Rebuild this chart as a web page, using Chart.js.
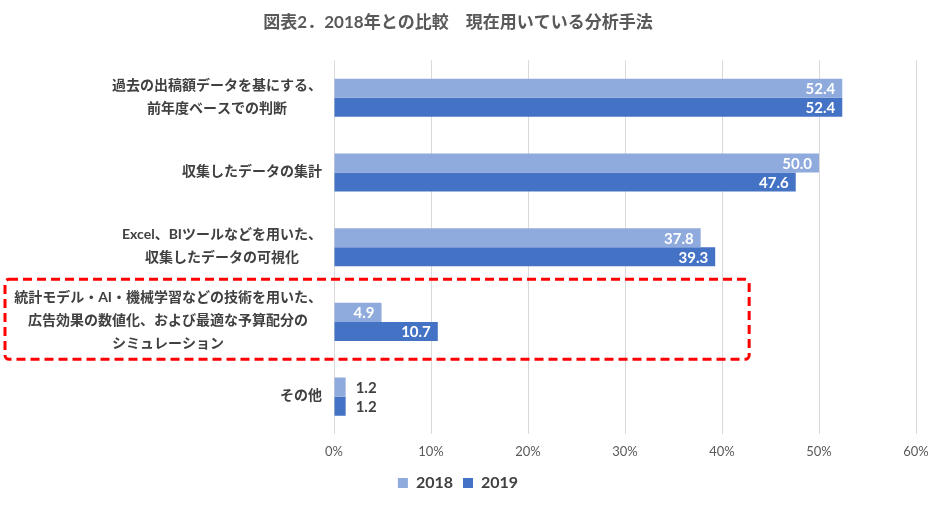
<!DOCTYPE html>
<html>
<head>
<meta charset="utf-8">
<script src="https://cdn.jsdelivr.net/npm/chart.js@4.4.1/dist/chart.umd.min.js"></script>
<style>
  html, body { margin: 0; padding: 0; background: #fff; }
  #wrap { width: 940px; height: 507px; }
</style>
</head>
<body>
<div id="wrap"><canvas id="chart"></canvas></div>
<script>
const categories = [
    ['過去の出稿額データを基にする、', '前年度ベースでの判断'],
    ['収集したデータの集計'],
    ['Excel、BIツールなどを用いた、', '収集したデータの可視化'],
    ['統計モデル・AI・機械学習などの技術を用いた、', '広告効果の数値化、および最適な予算配分の', 'シミュレーション'],
    ['その他']
];
const values2018 = [52.4, 50.0, 37.8, 4.9, 1.2];
const values2019 = [52.4, 47.6, 39.3, 10.7, 1.2];
const seriesNames = ['2018', '2019'];
const xTicks = [0, 10, 20, 30, 40, 50, 60];
const highlightIndex = 3;

const GREY = '#595959';
const DARK = '#404040';
const FONT = "Lato, 'Noto Sans CJK JP', sans-serif";

// ラベルをブロック単位で右寄せ、各行は中央揃え
const categoryLabels = {
    id: 'categoryLabels',
    afterDraw(chart) {
        const ctx = chart.ctx;
        const y = chart.scales.y;
        const right = chart.chartArea.left - 12;
        const lh = 23;
        ctx.save();
        ctx.font = "bold 14px " + FONT;
        ctx.fillStyle = DARK;
        ctx.textAlign = 'center';
        ctx.textBaseline = 'middle';
        categories.forEach((lines, i) => {
            const cy = y.getPixelForValue(i) - 1;
            const maxW = Math.max(...lines.map(l => ctx.measureText(l).width));
            const cx = right - maxW / 2;
            lines.forEach((l, j) => {
                ctx.fillText(l, cx, cy + (j - (lines.length - 1) / 2) * lh);
            });
        });
        ctx.restore();
    }
};

const valueLabels = {
    id: 'valueLabels',
    afterDatasetsDraw(chart) {
        const ctx = chart.ctx;
        ctx.save();
        ctx.font = "bold 15px " + FONT;
        ctx.textBaseline = 'middle';
        chart.data.datasets.forEach((ds, di) => {
            chart.getDatasetMeta(di).data.forEach((bar, i) => {
                const v = ds.data[i];
                const txt = v.toFixed(1);
                if (v >= 3) {
                    ctx.fillStyle = '#ffffff';
                    ctx.textAlign = 'right';
                    ctx.fillText(txt, bar.x - 7, bar.y + 1);
                } else {
                    ctx.fillStyle = DARK;
                    ctx.textAlign = 'left';
                    ctx.fillText(txt, bar.x + 10, bar.y + 1);
                }
            });
        });
        ctx.restore();
    }
};

const highlightBox = {
    id: 'highlightBox',
    afterDraw(chart) {
        const ctx = chart.ctx;
        const x = chart.scales.x;
        const y = chart.scales.y;
        const band = y.getPixelForValue(1) - y.getPixelForValue(0);
        const cy = y.getPixelForValue(highlightIndex);
        const left = 5;
        const top = cy - band * 0.57;
        const right = x.getPixelForValue(42.8);
        const bottom = cy + band * 0.5;
        ctx.save();
        ctx.strokeStyle = '#ff0000';
        ctx.lineWidth = 3;
        ctx.setLineDash([9, 5]);
        ctx.beginPath();
        ctx.roundRect(left, top, right - left, bottom - top, 4);
        ctx.stroke();
        ctx.restore();
    }
};

const chart = new Chart(document.getElementById('chart').getContext('2d'), {
    type: 'bar',
    data: {
        labels: categories,
        datasets: [{
            label: seriesNames[0],
            data: values2018,
            backgroundColor: '#8faadc',
            categoryPercentage: 0.51,
            barPercentage: 1.0
        }, {
            label: seriesNames[1],
            data: values2019,
            backgroundColor: '#4472c4',
            categoryPercentage: 0.51,
            barPercentage: 1.0
        }]
    },
    options: {
        indexAxis: 'y',
        responsive: true,
        maintainAspectRatio: false,
        animation: false,
        layout: {
            padding: { right: 24, bottom: 6 }
        },
        plugins: {
            title: {
                display: true,
                text: '図表2．2018年との比較　現在用いている分析手法',
                color: GREY,
                font: { family: FONT, size: 17, weight: 'bold' },
                padding: { top: 12, bottom: 28 }
            },
            legend: {
                position: 'bottom',
                labels: {
                    color: DARK,
                    boxWidth: 10,
                    boxHeight: 10,
                    padding: 10,
                    font: { family: FONT, size: 16, weight: 'bold' }
                }
            },
            tooltip: { enabled: false }
        },
        scales: {
            x: {
                min: 0,
                max: 60,
                afterBuildTicks(scale) {
                    scale.ticks = xTicks.map(v => ({ value: v }));
                },
                afterFit(scale) {
                    scale.height = 31;
                },
                ticks: {
                    color: GREY,
                    padding: 10,
                    font: { family: FONT, size: 13 },
                    callback: function(value) {
                        return value + '%';
                    }
                },
                grid: {
                    color: '#d9d9d9',
                    drawTicks: false
                },
                border: { display: false }
            },
            y: {
                afterFit(scale) {
                    scale.width = 334;
                },
                ticks: { display: false },
                grid: { display: false },
                border: { display: false }
            }
        }
    },
    plugins: [valueLabels, categoryLabels, highlightBox]
});
</script>
</body>
</html>
